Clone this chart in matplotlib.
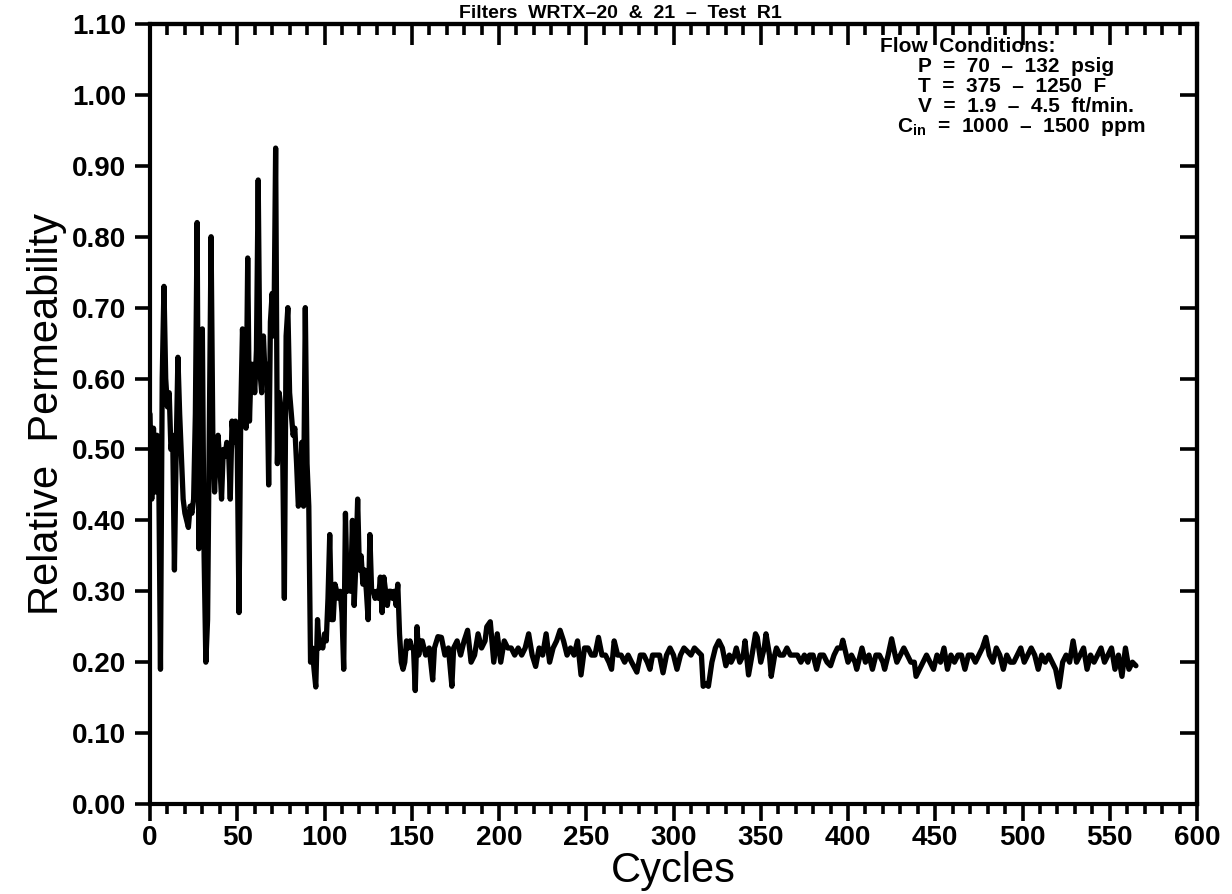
import numpy as np
import matplotlib
matplotlib.use("Agg")
import matplotlib.pyplot as plt
from matplotlib.ticker import MultipleLocator, FormatStrFormatter

plt.rcParams['font.family'] = ['Liberation Sans', 'DejaVu Sans']
plt.rcParams['mathtext.fontset'] = 'custom'
plt.rcParams['mathtext.rm'] = 'Liberation Sans'
plt.rcParams['mathtext.bf'] = 'Liberation Sans:bold'

# cycles / relative permeability
cycles_early = [0, 1, 2, 3, 4, 5, 6, 7, 8, 9, 10, 11, 12, 13, 14, 15, 16, 17, 18, 19,
                20, 21, 22, 23, 24, 25, 26, 27, 28, 29, 30, 31, 32, 33, 34, 35, 36, 37, 38, 39,
                40, 41, 42, 43, 44, 45, 46, 47, 48, 49, 50, 51, 52, 53, 54, 55, 56, 57, 58, 59,
                60, 61, 62, 63, 64, 65, 66, 67, 68, 69, 70, 71, 72, 73, 74, 75, 76, 77, 78, 79,
                80, 81, 82, 83, 84, 85, 86, 87, 88, 89, 90, 91, 92, 93, 94, 95, 96, 97, 98, 99,
                100, 101, 102, 103, 104, 105, 106, 107, 108, 109, 110, 111, 112, 113, 114, 115,
                116, 117, 118, 119, 120, 121, 122, 123, 124, 125, 126, 127, 128, 129, 130, 131,
                132, 133, 134, 135, 136, 137, 138, 139, 140, 141, 142, 143, 144, 145, 146, 147,
                148, 149, 150, 151, 152, 153, 154, 155]
perm_early = [0.55, 0.43, 0.53, 0.44, 0.52, 0.47, 0.19, 0.60, 0.73, 0.60, 0.56, 0.58, 0.50, 0.52,
              0.33, 0.50, 0.63, 0.55, 0.49, 0.43, 0.41, 0.40, 0.39, 0.42, 0.41, 0.43, 0.55, 0.82,
              0.36, 0.55, 0.67, 0.35, 0.20, 0.26, 0.53, 0.80, 0.52, 0.44, 0.50, 0.52, 0.48, 0.43,
              0.50, 0.49, 0.51, 0.50, 0.43, 0.54, 0.51, 0.54, 0.50, 0.27, 0.55, 0.67, 0.60, 0.53,
              0.77, 0.54, 0.62, 0.62, 0.58, 0.64, 0.88, 0.61, 0.58, 0.66, 0.60, 0.62, 0.45, 0.68,
              0.72, 0.66, 0.925, 0.48, 0.58, 0.56, 0.50, 0.29, 0.66, 0.70, 0.58, 0.55, 0.52, 0.53,
              0.48, 0.42, 0.43, 0.51, 0.42, 0.70, 0.48, 0.42, 0.20, 0.22, 0.19, 0.165, 0.26, 0.22,
              0.23, 0.22, 0.24, 0.23, 0.29, 0.38, 0.26, 0.26, 0.31, 0.30, 0.29, 0.30, 0.27, 0.19,
              0.41, 0.30, 0.33, 0.30, 0.40, 0.28, 0.34, 0.43, 0.33, 0.35, 0.31, 0.33, 0.30, 0.26,
              0.38, 0.30, 0.30, 0.29, 0.30, 0.29, 0.32, 0.27, 0.32, 0.30, 0.28, 0.30, 0.30, 0.29,
              0.30, 0.28, 0.31, 0.24, 0.20, 0.19, 0.20, 0.23, 0.22, 0.23, 0.22, 0.22, 0.16, 0.25,
              0.21, 0.23]

cycles_late = [156, 158, 160, 162, 163, 165, 167, 169, 171, 173, 174, 176, 178, 180, 182, 184,
               186, 188, 190, 192, 193, 195, 197, 199, 201, 203, 205, 207, 209, 211, 213, 215,
               217, 219, 221, 223, 225, 227, 229, 231, 233, 235, 237, 239, 241, 243, 245, 247,
               249, 251, 253, 255, 257, 259, 261, 263, 264.5, 266, 268, 270, 272, 274, 276, 279,
               281, 283, 285, 286.5, 288, 290, 292, 294, 296, 298, 300, 302, 304, 306, 308, 310,
               312, 314, 316, 317, 319, 320, 322, 324, 326, 328, 330, 332, 333, 335, 336, 338,
               340, 341, 343, 345, 347, 348, 350, 352, 353, 355, 356, 358, 359, 361, 363, 365,
               367, 369, 371, 373, 375, 377, 378, 380, 382, 384, 386, 388, 390, 392, 394, 396,
               397, 399, 400, 402, 404, 405, 407, 408, 410, 412, 414, 416, 418, 420, 421, 423,
               425, 427, 428, 430, 432, 434, 436, 438, 439, 441, 443, 445, 447, 449, 451, 453,
               455, 457, 459, 461, 463, 465, 467, 469, 471, 473, 475, 477, 479, 481, 483, 485,
               487, 489, 491, 493, 495, 497, 499, 501, 503, 505, 507, 509, 511, 513, 515, 517,
               519, 521, 523, 525, 527, 529, 531, 533, 535, 537, 539, 541, 543, 545, 547, 549,
               551, 553, 555, 557, 559, 561, 563, 565]
perm_late = [0.23, 0.21, 0.22, 0.175, 0.22, 0.236, 0.235, 0.21, 0.22, 0.166, 0.22, 0.23, 0.21,
             0.23, 0.245, 0.20, 0.21, 0.24, 0.22, 0.23, 0.25, 0.257, 0.20, 0.24, 0.20, 0.23, 0.22,
             0.22, 0.21, 0.22, 0.21, 0.22, 0.24, 0.21, 0.194, 0.22, 0.21, 0.24, 0.20, 0.22, 0.23,
             0.245, 0.23, 0.21, 0.22, 0.21, 0.23, 0.182, 0.22, 0.22, 0.21, 0.21, 0.235, 0.21,
             0.21, 0.20, 0.19, 0.23, 0.21, 0.21, 0.20, 0.21, 0.20, 0.186, 0.21, 0.21, 0.20, 0.19,
             0.21, 0.21, 0.21, 0.185, 0.21, 0.22, 0.21, 0.19, 0.21, 0.22, 0.215, 0.21, 0.22,
             0.215, 0.21, 0.166, 0.17, 0.166, 0.20, 0.22, 0.23, 0.22, 0.195, 0.21, 0.20, 0.21,
             0.22, 0.20, 0.21, 0.23, 0.182, 0.21, 0.24, 0.235, 0.20, 0.22, 0.24, 0.21, 0.18, 0.21,
             0.22, 0.21, 0.21, 0.22, 0.21, 0.21, 0.21, 0.20, 0.21, 0.20, 0.21, 0.21, 0.19, 0.21,
             0.21, 0.20, 0.195, 0.21, 0.22, 0.22, 0.231, 0.21, 0.20, 0.21, 0.20, 0.19, 0.21, 0.22,
             0.20, 0.21, 0.19, 0.21, 0.21, 0.20, 0.19, 0.21, 0.233, 0.21, 0.20, 0.21, 0.22, 0.21,
             0.20, 0.20, 0.18, 0.19, 0.20, 0.21, 0.20, 0.19, 0.21, 0.20, 0.22, 0.19, 0.21, 0.20,
             0.21, 0.21, 0.19, 0.21, 0.21, 0.20, 0.21, 0.22, 0.235, 0.21, 0.20, 0.22, 0.21, 0.19,
             0.21, 0.20, 0.20, 0.21, 0.22, 0.20, 0.21, 0.22, 0.21, 0.19, 0.21, 0.20, 0.21, 0.20,
             0.19, 0.165, 0.20, 0.21, 0.20, 0.23, 0.20, 0.21, 0.22, 0.19, 0.21, 0.20, 0.21, 0.22,
             0.20, 0.21, 0.22, 0.19, 0.21, 0.18, 0.22, 0.19, 0.20, 0.195]

cycles = cycles_early + cycles_late
perm = perm_early + perm_late

title = "Filters  WRTX\u201320  &  21  \u2013  Test  R1"
notes = ["Flow  Conditions:",
         "P  =  70  \u2013  132  psig",
         "T  =  375  \u2013  1250  F",
         "V  =  1.9  \u2013  4.5  ft/min.",
         "C$_{\\mathbf{in}}$  =  1000  \u2013  1500  ppm"]

W, H = 1232, 894
fig = plt.figure(figsize=(W / 100, H / 100), dpi=100)
ax = fig.add_axes([150 / W, 1 - 804 / H, 1047 / W, 780 / H])

ax.plot(cycles, perm, color='black', lw=3.8, solid_joinstyle='round', solid_capstyle='round')

ax.set_xlim(0, 600)
ax.set_ylim(0, 1.10)
for s in ax.spines.values():
    s.set_linewidth(3)

# bottom / left ticks point outward
ax.xaxis.set_major_locator(MultipleLocator(50))
ax.xaxis.set_minor_locator(MultipleLocator(10))
ax.yaxis.set_major_locator(MultipleLocator(0.1))
ax.yaxis.set_major_formatter(FormatStrFormatter('%.2f'))
ax.tick_params(axis='x', which='major', direction='out', length=12, width=2.6, pad=3, labelsize=20)
ax.tick_params(axis='x', which='minor', direction='out', length=7, width=2.6)
ax.tick_params(axis='y', which='major', direction='out', length=11, width=2.6, pad=6, labelsize=20)
for lab in ax.get_xticklabels() + ax.get_yticklabels():
    lab.set_fontweight('bold')

# top / right ticks point inward
top = ax.secondary_xaxis('top')
top.xaxis.set_major_locator(MultipleLocator(50))
top.xaxis.set_minor_locator(MultipleLocator(10))
top.tick_params(axis='x', which='major', direction='in', length=15, width=2.6, labeltop=False)
top.tick_params(axis='x', which='minor', direction='in', length=8, width=2.6)
top.spines['top'].set_linewidth(3)

right = ax.secondary_yaxis('right')
right.yaxis.set_major_locator(MultipleLocator(0.1))
right.tick_params(axis='y', which='major', direction='in', length=12, width=2.6, labelright=False)
right.spines['right'].set_linewidth(3)

ax.set_xlabel("Cycles", fontsize=30, labelpad=0)
ax.set_ylabel("Relative  Permeability", fontsize=30, labelpad=4)

fig.text(620 / W, 1 - 18 / H, title, fontsize=14, fontweight='bold', ha='center', va='baseline')

note_pos = [(880, 46), (918, 66), (918, 86), (918, 106), (897, 127)]
for (px, py), t in zip(note_pos, notes):
    fig.text(px / W, 1 - py / H, t, fontsize=15, fontweight='bold', ha='left', va='center')

fig.savefig("out.png", dpi=100)
